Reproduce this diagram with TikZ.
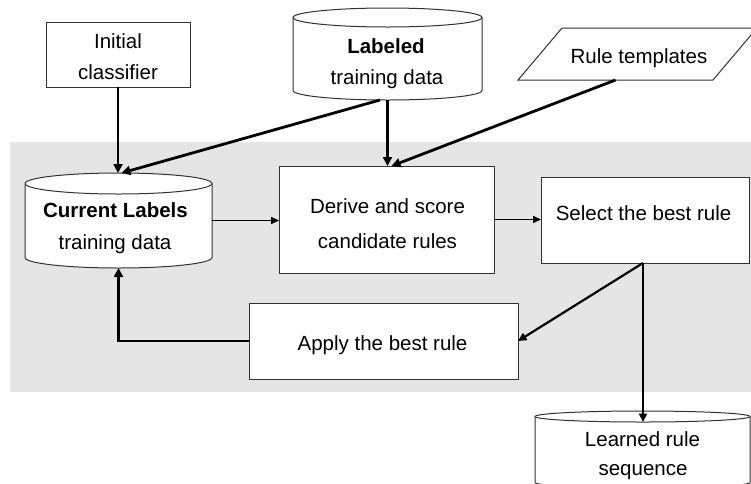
\documentclass[tikz,border=0pt]{standalone}
\usepackage{fontspec}
\setmainfont{Liberation Sans}
\usetikzlibrary{arrows.meta,shapes.geometric}
\definecolor{bggray}{RGB}{229,229,229}
\definecolor{edgecol}{RGB}{50,50,50}
\newcommand\fsz{\fontsize{20.5}{24}\selectfont}
\newcommand\cylshape[5]{%
  \pgfmathsetmacro\cxr{(#2-#1)/2}%
  \draw[shapeline, fill=white] (#1,-#3-#5) -- (#1,-#4+#5)
    arc[start angle=180,end angle=360,x radius=\cxr,y radius=#5]
    -- (#2,-#3-#5)
    arc[start angle=0,end angle=180,x radius=\cxr,y radius=#5] -- cycle;
  \draw[shapeline] (#1,-#3-#5) arc[start angle=180,end angle=360,x radius=\cxr,y radius=#5];}
\tikzset{
  x=1pt, y=1pt,
  shapeline/.style={draw=edgecol, line width=1pt},
  box/.style={shapeline, fill=white, inner sep=0pt, outer sep=0pt},
  area/.style={inner sep=0pt, outer sep=0pt},
  lbl/.style={anchor=base, inner sep=0pt, outer sep=0pt, font=\fsz},
  arrthick/.style={line width=2.8pt, -{Triangle[length=9pt,width=9pt]}},
  arrmed/.style={line width=2.2pt, -{Triangle[length=8.5pt,width=8pt]}},
  arrthin/.style={line width=1.6pt, -{Triangle[length=8pt,width=7pt]}},
}
\begin{document}
\begin{tikzpicture}
\path[use as bounding box] (0,0) rectangle (751,-483);
\clip (0,0) rectangle (751,-483);
% gray working area
\fill[bggray] (10,-142) rectangle (751,-392);
% cylinders (drawn shapes) and their named areas
\cylshape{293}{482}{8}{100}{9.5}
\node[area, minimum width=189pt, minimum height=92pt] (lab) at (387.5,-54) {};
\cylshape{25}{212}{173}{268}{10.5}
\node[area, minimum width=187pt, minimum height=95pt] (cur) at (118.5,-220.5) {};
\cylshape{535}{750}{411}{488}{5.5}
\node[area, minimum width=215pt, minimum height=77pt] (lrn) at (642.5,-449.5) {};
\coordinate (lrntop) at ([yshift=-11pt]lrn.north);
% boxes
\node[box, minimum width=144pt, minimum height=65pt] (init) at (118,-54.5) {};
\node[box, trapezium, trapezium left angle=49.8, trapezium right angle=130.2,
      inner xsep=75.5pt, inner ysep=26pt, minimum width=0pt, minimum height=0pt] (tmpl) at (637.5,-54) {};
\node[box, minimum width=215pt, minimum height=107pt] (der) at (386.5,-219.5) {};
\node[box, minimum width=208pt, minimum height=86pt] (sel) at (645,-220) {};
\node[box, minimum width=269pt, minimum height=76pt] (app) at (383.5,-341) {};
% texts
\node[lbl] (tinit1) at (118,-48) {Initial};
\node[lbl] (tinit2) at (118,-79) {classifier};
\node[lbl] (tlab1) at (386,-53) {\bfseries Labeled};
\node[lbl] (tlab2) at (387,-84) {training data};
\node[lbl] (ttmpl) at (639,-63) {Rule templates};
\node[lbl] (tcur1) at (115.5,-217) {\bfseries Current Labels};
\node[lbl] (tcur2) at (115,-249) {training data};
\node[lbl] (tder1) at (387.5,-213) {Derive and score};
\node[lbl] (tder2) at (387.5,-248) {candidate rules};
\node[lbl] (tsel) at (643.5,-220) {Select the best rule};
\node[lbl] (tapp) at (382.5,-350) {Apply the best rule};
\node[lbl] (tlrn1) at (642.5,-446) {Learned rule};
\node[lbl] (tlrn2) at (643,-475) {sequence};
% connectors
\coordinate (selout) at ([xshift=-2pt]sel.south);
\draw[arrthick] (init.south) -- (init.south |- cur.north);
\draw[arrthick] ([xshift=-7.5pt]lab.south) -- ([xshift=3pt]cur.north);
\draw[arrthick] (lab.south) -- (lab.south |- der.north);
\draw[arrthick] (tmpl.bottom side) -- ([xshift=5pt]der.north);
\draw[arrthin] (cur.east) -- (cur.east -| der.west);
\draw[arrthin] (der.east) -- (der.east -| sel.west);
\draw[arrmed] (selout) -- (app.east);
\draw[arrmed] (selout) -- (selout |- lrntop);
\draw[arrthick] (app.west) -| (cur.south);
\end{tikzpicture}
\end{document}
